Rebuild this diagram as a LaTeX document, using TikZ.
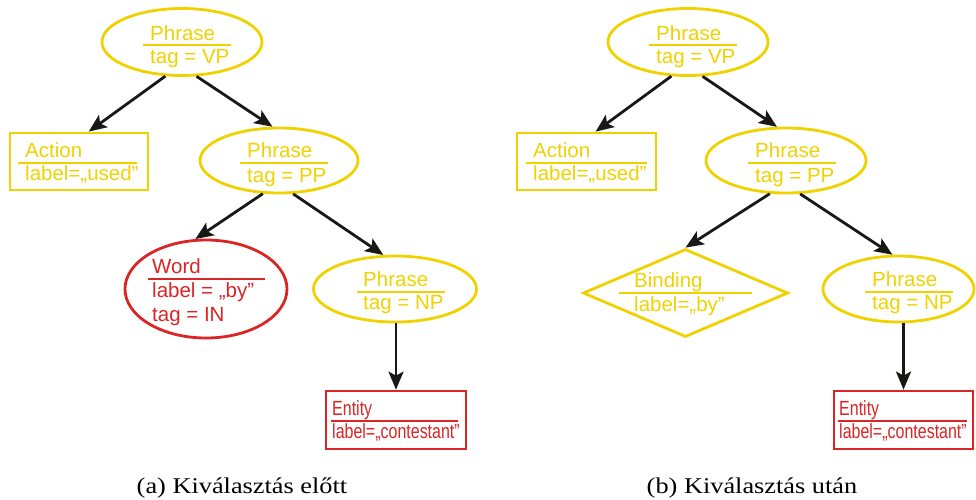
\documentclass[tikz,border=0pt]{standalone}
\usepackage{fontspec}
\setmainfont{Liberation Sans}
\newfontfamily\capfont{Liberation Serif}
\usetikzlibrary{shapes.geometric,arrows.meta}
\definecolor{myY}{RGB}{240,210,0}
\definecolor{myR}{RGB}{218,37,37}
\definecolor{arrc}{RGB}{26,23,23}
\newcommand\nfs{\fontsize{20.5}{24}\selectfont}
\newcommand\nrw[1]{\scalebox{0.78}[1]{#1}}
\tikzset{
  ytxt/.style={text=myY, font=\nfs, anchor=base west, inner sep=0pt},
  rtxt/.style={text=myR, font=\nfs, anchor=base west, inner sep=0pt},
  yell/.style={ellipse, draw=myY, line width=2.8pt, inner sep=0pt},
  rell/.style={ellipse, draw=myR, line width=2.8pt, inner sep=0pt},
  ybox/.style={rectangle, draw=myY, line width=2.8pt, inner sep=0pt},
  rbox/.style={rectangle, draw=myR, line width=2.8pt, inner sep=0pt},
  ydia/.style={diamond, draw=myY, line width=2.8pt, inner sep=0pt},
  ysep/.style={draw=myY, line width=2.4pt},
  rsep/.style={draw=myR, line width=2.4pt},
  arr/.style={draw=arrc, line width=2.8pt, -{Stealth[length=18pt,width=15pt,inset=4pt]}},
  captext/.style={font=\capfont\fontsize{22.5}{26}\selectfont, anchor=base, inner sep=0pt},
}
\begin{document}
\begin{tikzpicture}[x=1pt,y=-1pt]
\useasboundingbox (0,0) rectangle (976,499);
% ---------------- left panel ----------------
\node[yell, minimum width=160pt, minimum height=67pt] (lt) at (182,42) {};
\node[ytxt] (lt1) at (150,40) {Phrase};
\draw[ysep] (143,45) -- (231,45);
\node[ytxt] (lt2) at (150,63) {tag = VP};

\node[ybox, minimum width=138pt, minimum height=57pt] (la) at (79,161.5) {};
\node[ytxt] (la1) at (25,157) {Action};
\draw[ysep] (18,163) -- (137,163);
\node[ytxt] (la2) at (25,180) {label=„used”};

\node[yell, minimum width=158pt, minimum height=65pt] (lp) at (279,160.5) {};
\node[ytxt] (lp1) at (247,157) {Phrase};
\draw[ysep] (240,163) -- (328,163);
\node[ytxt] (lp2) at (247,182) {tag = PP};

\node[rell, minimum width=162pt, minimum height=98pt] (lw) at (206,289) {};
\node[rtxt] (lw1) at (152,273) {Word};
\draw[rsep] (148,279) -- (265,279);
\node[rtxt] (lw2) at (152,297) {label = „by”};
\node[rtxt] (lw3) at (152,321) {tag = IN};

\node[yell, minimum width=163pt, minimum height=66pt] (ln) at (395,289) {};
\node[ytxt] (ln1) at (363,286) {Phrase};
\draw[ysep] (357,292) -- (445,292);
\node[ytxt] (ln2) at (363,309) {tag = NP};

\node[rbox, minimum width=140pt, minimum height=58pt] (le) at (396,420) {};
\node[rtxt] (le1) at (332,415) {\nrw{Entity}};
\draw[rsep] (331,421) -- (458,421);
\node[rtxt] (le2) at (332,438) {\nrw{label=„contestant”}};

\draw[arr] (lt.244) -- (la.72);
\draw[arr] (lt.293) -- (lp.101);
\draw[arr] (lp.244) -- (lw.102);
\draw[arr] (lp.293) -- (ln.109);
\draw[arr] (le.north |- ln.south) -- (le.north);

% ---------------- right panel ----------------
\node[yell, minimum width=160pt, minimum height=67pt] (rt) at (688,42) {};
\node[ytxt] (rt1) at (656,40) {Phrase};
\draw[ysep] (649,45) -- (737,45);
\node[ytxt] (rt2) at (656,63) {tag = VP};

\node[ybox, minimum width=139pt, minimum height=57pt] (ra) at (586.5,161.5) {};
\node[ytxt] (ra1) at (533,157) {Action};
\draw[ysep] (526,163) -- (647,163);
\node[ytxt] (ra2) at (533,180) {label=„used”};

\node[yell, minimum width=160pt, minimum height=65pt] (rp) at (786,160.5) {};
\node[ytxt] (rp1) at (755,157) {Phrase};
\draw[ysep] (748,163) -- (836,163);
\node[ytxt] (rp2) at (755,182) {tag = PP};

\node[ydia, minimum width=205pt, minimum height=88pt] (rb) at (685.5,293) {};
\node[ytxt] (rb1) at (634,287) {Binding};
\draw[ysep] (619,293) -- (752,293);
\node[ytxt] (rb2) at (634,311) {label=„by”};

\node[yell, minimum width=151pt, minimum height=66pt] (rn) at (898.5,289) {};
\node[ytxt] (rn1) at (872,286) {Phrase};
\draw[ysep] (865,292) -- (953,292);
\node[ytxt] (rn2) at (872,309) {tag = NP};

\node[rbox, minimum width=139pt, minimum height=58pt] (re) at (903.5,420) {};
\node[rtxt] (re1) at (839,415) {\nrw{Entity}};
\draw[rsep] (838,421) -- (967,421);
\node[rtxt] (re2) at (839,438) {\nrw{label=„contestant”}};

\draw[arr] (rt.244) -- (ra.73);
\draw[arr] (rt.293) -- (rp.105);
\draw[arr] (rp.244) -- (rb.north);
\draw[arr] (rp.293) -- (rn.100);
\draw[arr] (re.north |- rn.south) -- (re.north);

% ---------------- captions ----------------
\node[captext] (capa) at (242,493) {\scalebox{1.17}[1]{(a) Kiválasztás előtt}};
\node[captext] (capb) at (752,493) {\scalebox{1.17}[1]{(b) Kiválasztás után}};
\end{tikzpicture}
\end{document}
